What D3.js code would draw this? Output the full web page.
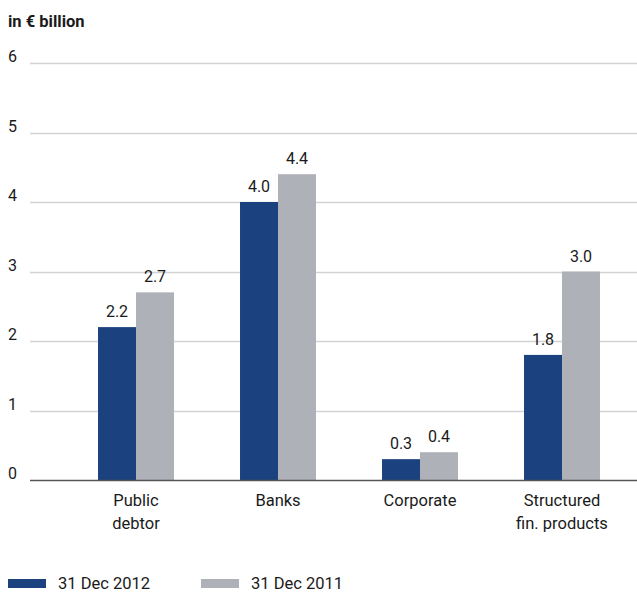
<!DOCTYPE html>
<html>
<head>
<meta charset="utf-8">
<script src="https://cdn.jsdelivr.net/npm/d3@7"></script>
<style>
  html, body { margin: 0; padding: 0; background: #fff; }
  svg { display: block; font-family: Roboto, "Liberation Sans", sans-serif; }
</style>
</head>
<body>
<svg id="chart" width="637" height="592"></svg>
<script>
// Exposure by debtor group, in € billion
const categories = [["Public", "debtor"], ["Banks"], ["Corporate"], ["Structured", "fin. products"]];
const seriesNames = ["31 Dec 2012", "31 Dec 2011"];
const values2012 = [2.2, 4.0, 0.3, 1.8];
const values2011 = [2.7, 4.4, 0.4, 3.0];
const yTicks = [0, 1, 2, 3, 4, 5, 6];
const colors = ["#1b427e", "#afb1b8"];

const svg = d3.select("#chart");
const gridLeft = 30, gridRight = 637;
const y = d3.scaleLinear().domain([0, 6]).range([480, 63]);

const x = d3.scaleBand()
  .domain(d3.range(categories.length))
  .range([65, 633])
  .paddingInner(0.465)
  .paddingOuter(0.2325);
const xs = d3.scaleBand().domain([0, 1]).range([0, x.bandwidth()]);

// unit caption
svg.append("text")
  .attr("x", 8).attr("y", 27)
  .attr("font-size", 16.5).attr("font-weight", "bold").attr("fill", "#1a1a1a")
  .text("in € billion");

// gridlines and y labels
const yAxis = svg.append("g");
yAxis.selectAll("line").data(yTicks.filter(d => d > 0)).join("line")
  .attr("x1", gridLeft).attr("x2", gridRight)
  .attr("y1", d => Math.round(y(d)) + 0.5).attr("y2", d => Math.round(y(d)) + 0.5)
  .attr("stroke", "#d2d3d7").attr("stroke-width", 1.5);
yAxis.selectAll("text").data(yTicks).join("text")
  .attr("x", 8).attr("y", d => y(d) - 1)
  .attr("font-size", 16).attr("fill", "#1a1a1a")
  .text(d => d);

// bars
const data = categories.map((c, i) => [values2012[i], values2011[i]]);
const groups = svg.append("g").selectAll("g").data(data).join("g")
  .attr("transform", (d, i) => `translate(${x(i)},0)`);
groups.selectAll("rect").data(d => d).join("rect")
  .attr("x", (d, j) => xs(j))
  .attr("width", xs.bandwidth())
  .attr("y", d => y(d))
  .attr("height", d => y(0) - y(d))
  .attr("fill", (d, j) => colors[j]);
groups.selectAll("text").data(d => d).join("text")
  .attr("x", (d, j) => xs(j) + xs.bandwidth() / 2)
  .attr("y", d => y(d) - 10)
  .attr("text-anchor", "middle")
  .attr("font-size", 16).attr("fill", "#1a1a1a")
  .text(d => d.toFixed(1));

// baseline
svg.append("line")
  .attr("x1", gridLeft).attr("x2", gridRight)
  .attr("y1", y(0) + 0.5).attr("y2", y(0) + 0.5)
  .attr("stroke", "#555").attr("stroke-width", 1.5);

// category labels
svg.append("g").selectAll("text").data(categories).join("text")
  .attr("x", (d, i) => x(i) + x.bandwidth() / 2)
  .attr("y", 506)
  .attr("text-anchor", "middle")
  .attr("font-size", 16.5).attr("fill", "#1a1a1a")
  .each(function(d) {
    d3.select(this).selectAll("tspan").data(d).join("tspan")
      .attr("x", d3.select(this).attr("x"))
      .attr("dy", (t, k) => k === 0 ? 0 : 23)
      .text(t => t);
  });

// legend
const legendX = [8, 201];
const legend = svg.append("g").selectAll("g").data(seriesNames).join("g")
  .attr("transform", (d, i) => `translate(${legendX[i]},579)`);
legend.append("rect").attr("width", 38).attr("height", 9).attr("fill", (d, i) => colors[i]);
legend.append("text").attr("x", 50).attr("y", 10)
  .attr("font-size", 16.5).attr("fill", "#1a1a1a").text(d => d);
</script>
</body>
</html>
